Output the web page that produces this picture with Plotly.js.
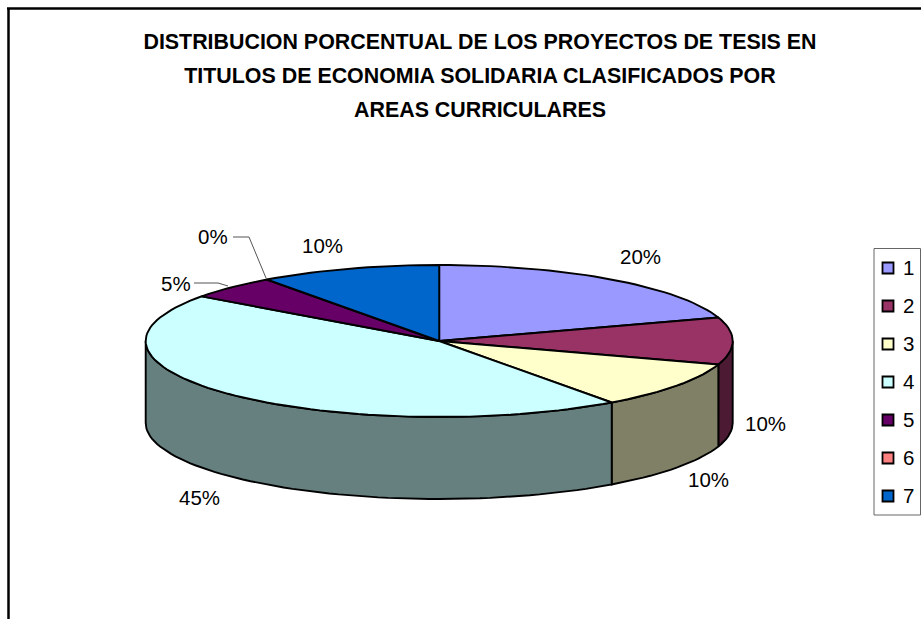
<!DOCTYPE html>
<html>
<head>
<meta charset="utf-8">
<script src="https://cdn.plot.ly/plotly-3.0.1.min.js"></script>
<style>html,body{margin:0;padding:0;background:#fff}#chart{width:921px;height:619px}</style>
</head>
<body>
<div id="chart"></div>
<script>
// ---- data ----
const categories = ['1','2','3','4','5','6','7'];
const percents   = [20,10,10,45,5,0,10];
const percentLabels = ['20%','10%','10%','45%','5%','0%','10%'];
const titleLines = [
  'DISTRIBUCION PORCENTUAL DE LOS PROYECTOS DE TESIS EN',
  'TITULOS DE ECONOMIA SOLIDARIA CLASIFICADOS POR',
  'AREAS CURRICULARES'
];
const topColors  = ['#9999FF','#993366','#FFFFCC','#CCFFFF','#660066','#FF8080','#0066CC'];
const wallColors = ['#4D4D80','#4D1A33','#808066','#668080','#330033','#804040','#003366'];

// ---- geometry of the tilted pie (axes run in page pixels) ----
const W = 921, H = 619;
const cx = 439.2, cy = 341, rx = 293.5, ry = 76, depth = 82;
const px = a => cx + rx * Math.sin(a * Math.PI / 180);
const py = a => cy - ry * Math.cos(a * Math.PI / 180);
function arc(a0, a1, dy) {
  const xs = [], ys = [], n = Math.max(1, Math.ceil(Math.abs(a1 - a0) / 2));
  for (let i = 0; i <= n; i++) {
    const a = a0 + (a1 - a0) * i / n;
    xs.push(px(a)); ys.push(py(a) + dy);
  }
  return [xs, ys];
}
const total = percents.reduce((s, v) => s + v, 0);
let acc = 0;
const spans = percents.map(v => {
  const s = acc; acc += v;
  return [s / total * 360, acc / total * 360];
});

const edge = {color: '#000', width: 1.9};
const traces = [];
// walls
spans.forEach(([a0, a1], i) => {
  const s = Math.max(a0, 90), e = Math.min(a1, 270);
  if (e <= s) return;
  const [tx, ty] = arc(s, e, 0), [bx, by] = arc(e, s, depth);
  traces.push({type:'scatter', mode:'lines', fill:'toself', fillcolor:wallColors[i], line:edge,
    x:[...tx, ...bx, tx[0]], y:[...ty, ...by, ty[0]], hoverinfo:'skip', showlegend:false});
});
// top faces
spans.forEach(([a0, a1], i) => {
  if (a1 <= a0) return;
  const [tx, ty] = arc(a0, a1, 0);
  traces.push({type:'scatter', mode:'lines', fill:'toself', fillcolor:topColors[i], line:edge,
    x:[cx, ...tx, cx], y:[cy, ...ty, cy], name:categories[i], hoverinfo:'skip', showlegend:false});
});

// label placement: offset from the rim point at each slice's middle angle
const labelDx = [29, 33, 32, -32, -56, -54, -26];
const labelDy = [-23, 82, 94, 103, -4, -43, -23];
const mids = spans.map(([a0, a1]) => (a0 + a1) / 2);
const font = {family:'"Liberation Sans", Arial, sans-serif', size:20.5, color:'#000'};
const annotations = percentLabels.map((t, i) => ({
  text:t, x:px(mids[i]) + labelDx[i], y:py(mids[i]) + labelDy[i],
  xref:'x', yref:'y', showarrow:false, font, xanchor:'center', yanchor:'middle'
}));

// leader lines for the two thin slices
[[4, 228, 286, 218, 283, 194, 283], [5, 266, 278, 249, 237, 233, 237]].forEach(l => {
  traces.push({type:'scatter', mode:'lines', line:{color:'#555', width:1},
    x:[l[1], l[3], l[5]], y:[l[2], l[4], l[6]], hoverinfo:'skip', showlegend:false});
});

// legend
const legendX = 888, legendTextX = 903, legendY0 = 268, legendStep = 38;
traces.push({type:'scatter', mode:'markers', hoverinfo:'skip', showlegend:false,
  x:categories.map(() => legendX),
  y:categories.map((c, i) => legendY0 + i * legendStep),
  marker:{symbol:'square', size:11, color:topColors, line:{color:'#000', width:1.8}}});
categories.forEach((c, i) => annotations.push({
  text:c, x:legendTextX, y:legendY0 + i * legendStep - 0.5, xref:'x', yref:'y', showarrow:false,
  font, xanchor:'left', yanchor:'middle', xshift:-2
}));

const shapes = [
  {type:'line', xref:'x', yref:'y', x0:8.5, x1:8.5, y0:8, y1:H, line:{color:'#000', width:2.5}},
  {type:'line', xref:'x', yref:'y', x0:7, x1:W, y0:8.5, y1:8.5, line:{color:'#000', width:2.5}},
  {type:'rect', xref:'x', yref:'y', x0:874, x1:920.5, y0:248.5, y1:515, line:{color:'#666', width:1}, fillcolor:'#fff', layer:'below'}
];

const titleSize = 21.4;
const layout = {
  width:W, height:H,
  margin:{l:0, r:0, t:0, b:0},
  paper_bgcolor:'#fff', plot_bgcolor:'#fff',
  showlegend:false,
  title:{
    text:titleLines.map(t => `<span style="font-size:${titleSize}px"><b>${t}</b></span>`).join('<br>'),
    font:{family:'"Liberation Sans", Arial, sans-serif', size:26, color:'#000'},
    x:480/W, xanchor:'center', xref:'paper',
    y:1-49/H, yanchor:'top', yref:'paper'
  },
  xaxis:{range:[0,W], visible:false, fixedrange:true},
  yaxis:{range:[H,0], visible:false, fixedrange:true},
  shapes, annotations
};
Plotly.newPlot('chart', traces, layout, {displayModeBar:false, staticPlot:true});
</script>
</body>
</html>
